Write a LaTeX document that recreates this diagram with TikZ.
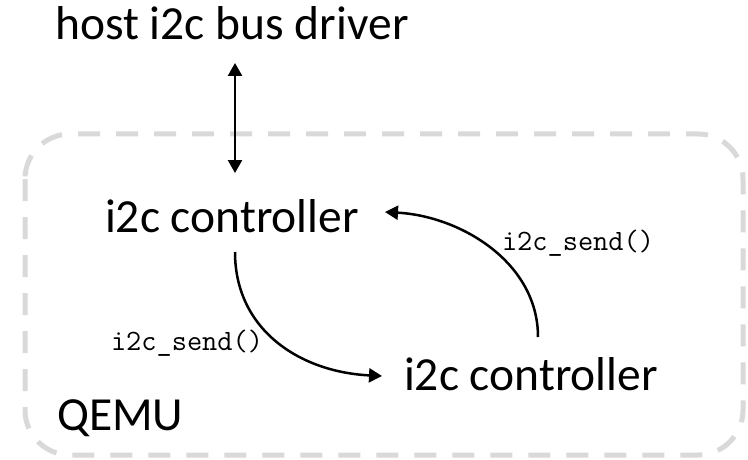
\documentclass[tikz,border=0pt]{standalone}
\usepackage{fontspec}
\setmainfont{Carlito}
\usetikzlibrary{arrows.meta}
\tikzset{
  big/.style={font=\fontsize{47.5}{56}\selectfont, inner sep=0pt},
  code/.style={font=\ttfamily\fontsize{29.5}{34}\selectfont, inner sep=0pt},
  arr/.style={line width=2.5pt, -{Triangle[length=13pt,width=14pt]}},
  darr/.style={line width=2.5pt, {Triangle[length=13pt,width=14pt]}-{Triangle[length=13pt,width=14pt]}},
  box/.style={draw={rgb,255:red,217;green,217;blue,217}, line width=5pt, dash pattern=on 22pt off 16pt, rounded corners=45pt}
}
\begin{document}
\begin{tikzpicture}[x=1pt,y=-1pt]
\useasboundingbox (0,0) rectangle (748,460);
\draw[box] (25,134) rectangle (743,455);
\node[big, anchor=base] (host) at (232,40) {host i2c bus driver};
\node[big, anchor=base] (c1) at (232,232) {i2c controller};
\node[big, anchor=base] (c2) at (531,390) {i2c controller};
\node[big, anchor=base west] (qemu) at (57,430) {QEMU};
\node[code, anchor=base] (l1) at (187,350) {i2c\_send()};
\node[code, anchor=base] (l2) at (578,250) {i2c\_send()};
\coordinate (t1) at (235,63);
\coordinate (t2) at (235,173);
\coordinate (s1) at (235,252);
\coordinate (e1) at (382,376);
\coordinate (s2) at (538,337);
\coordinate (e2) at (385,212);
\draw[darr] (t1) -- (t2);
\draw[arr] (s1) .. controls (235,330) and (300,372) .. (e1);
\draw[arr] (s2) .. controls (538,262) and (460,216) .. (e2);
\end{tikzpicture}
\end{document}
